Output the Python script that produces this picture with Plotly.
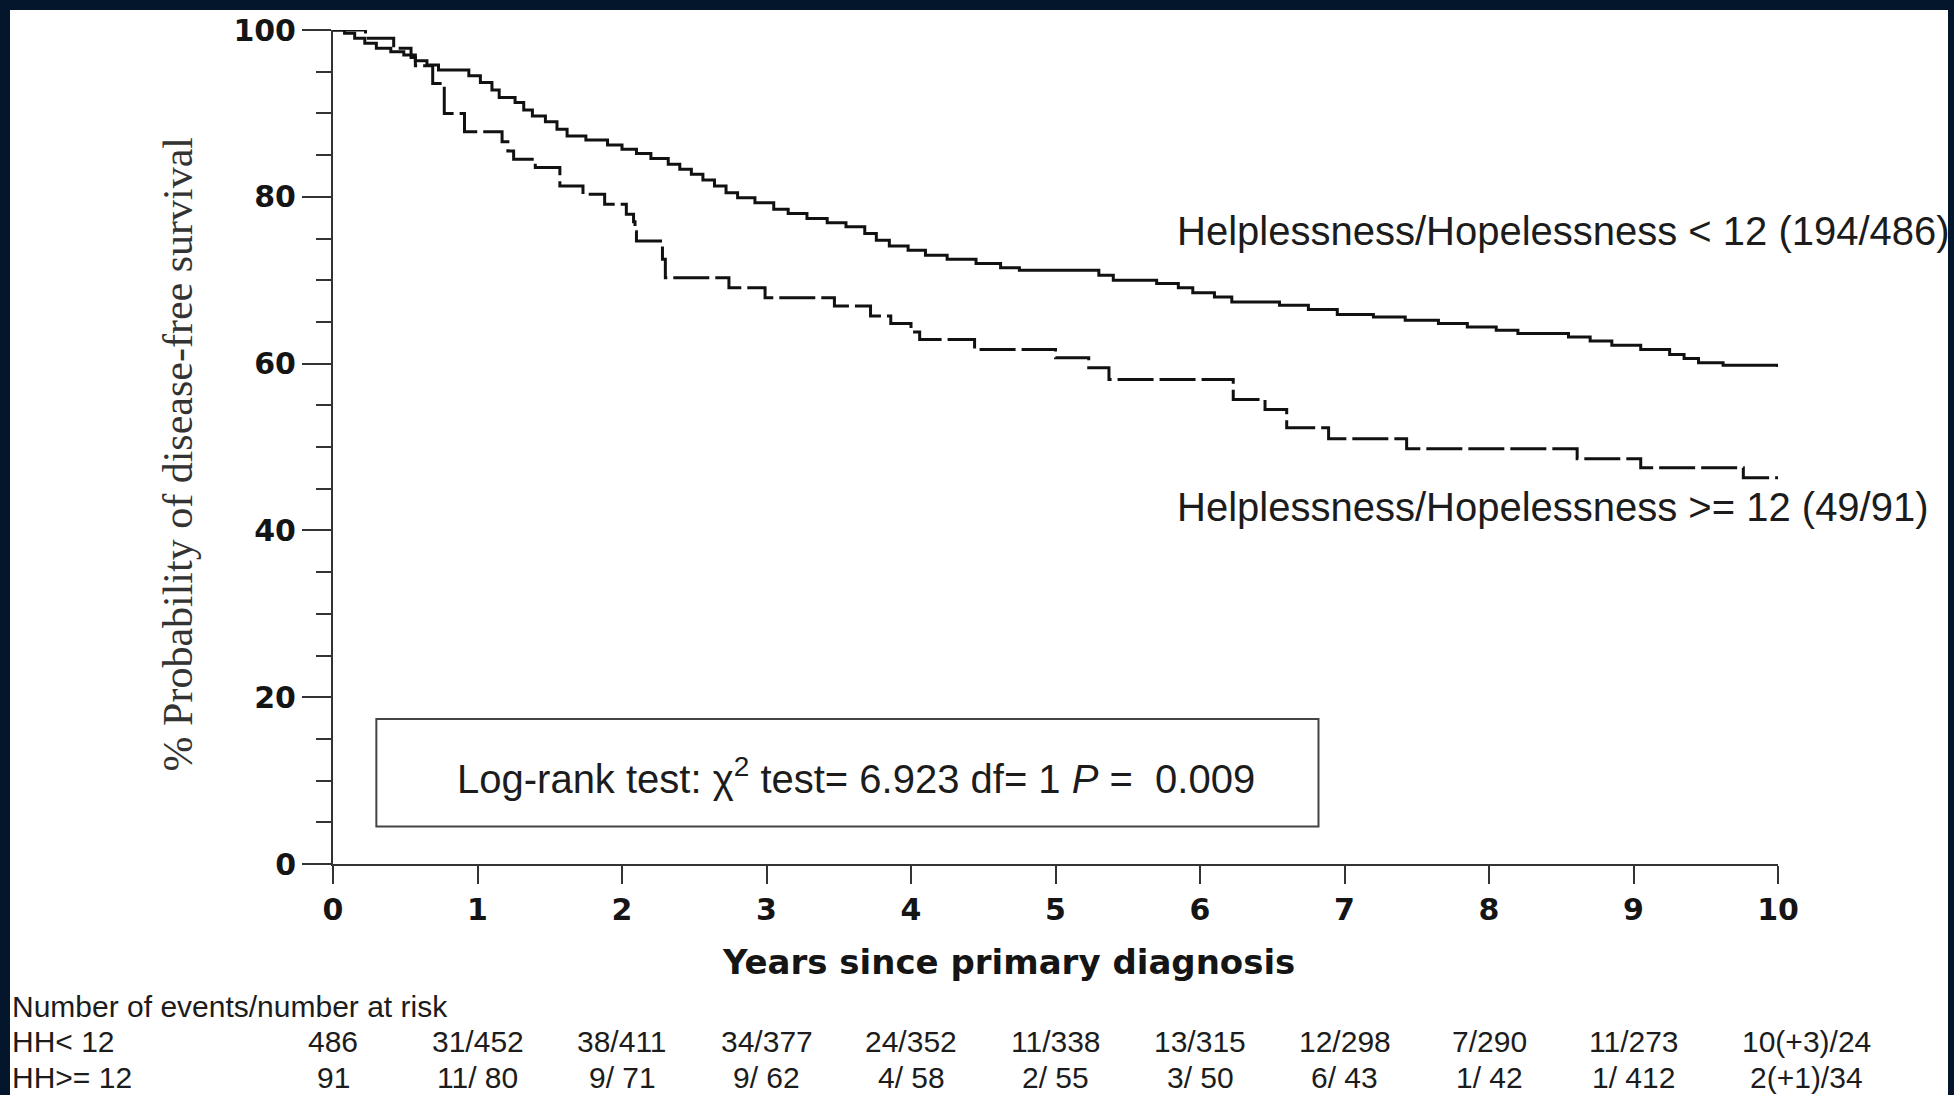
import plotly.graph_objects as go

# ---------------- data ----------------
# Kaplan-Meier step points (years, % disease-free survival)
hh_low_t = [0, 0.08, 0.15, 0.22, 0.30, 0.40, 0.49, 0.57, 0.65, 0.73, 0.94, 1.02, 1.10, 1.15,
            1.26, 1.32, 1.38, 1.47, 1.55, 1.62, 1.75, 1.90, 2.00, 2.10, 2.20, 2.32, 2.40,
            2.48, 2.56, 2.64, 2.72, 2.80, 2.92, 3.05, 3.15, 3.28, 3.42, 3.55, 3.68, 3.76,
            3.85, 3.98, 4.10, 4.25, 4.45, 4.62, 4.75, 5.30, 5.40, 5.70, 5.85, 5.95, 6.10,
            6.22, 6.55, 6.75, 6.95, 7.20, 7.42, 7.65, 7.85, 8.05, 8.20, 8.55, 8.70, 8.85,
            9.05, 9.25, 9.35, 9.45, 9.62, 10.0]
hh_low_s = [100, 99.6, 99.0, 98.4, 97.8, 97.4, 97.0, 96.3, 95.8, 95.2, 94.5, 93.7, 92.8, 91.9,
            91.3, 90.4, 89.7, 89.0, 88.1, 87.3, 86.8, 86.2, 85.7, 85.2, 84.6, 83.9, 83.3,
            82.7, 82.0, 81.3, 80.5, 79.9, 79.3, 78.5, 78.0, 77.4, 76.9, 76.4, 75.6, 74.8,
            74.1, 73.6, 73.0, 72.5, 72.0, 71.5, 71.2, 70.6, 70.0, 69.6, 69.1, 68.5, 68.0,
            67.4, 67.0, 66.5, 65.9, 65.6, 65.2, 64.8, 64.4, 64.0, 63.6, 63.2, 62.7, 62.2,
            61.7, 61.1, 60.6, 60.1, 59.8, 59.6]

hh_high_t = [0, 0.225, 0.42, 0.54, 0.57, 0.69, 0.77, 0.91, 1.17, 1.21, 1.25, 1.40, 1.57, 1.73,
             1.88, 2.03, 2.08, 2.09, 2.10, 2.28, 2.30, 2.74, 2.99, 3.47, 3.72, 3.86, 4.00,
             4.06, 4.44, 5.00, 5.23, 5.37, 6.23, 6.45, 6.60, 6.89, 7.43, 8.61, 9.05, 9.76, 10.0]
hh_high_s = [100, 99.0, 97.8, 96.7, 95.7, 93.6, 90.0, 87.8, 86.6, 85.5, 84.5, 83.5, 81.3, 80.3,
             79.1, 77.9, 77.0, 75.8, 74.7, 72.5, 70.3, 69.1, 67.9, 66.9, 65.7, 64.8, 63.8,
             62.9, 61.7, 60.7, 59.5, 58.1, 55.7, 54.5, 52.3, 51.0, 49.8, 48.6, 47.5, 46.3, 46.3]

label_low = "Helplessness/Hopelessness < 12 (194/486)"
label_high = "Helplessness/Hopelessness >= 12 (49/91)"

risk_years = [0, 1, 2, 3, 4, 5, 6, 7, 8, 9, 10]
risk_low = ["486", "31/452", "38/411", "34/377", "24/352", "11/338", "13/315", "12/298",
            "7/290", "11/273", "10(+3)/24"]
risk_high = ["91", "11/ 80", "9/ 71", "9/ 62", "4/ 58", "2/ 55", "3/ 50", "6/ 43",
             "1/ 42", "1/ 412", "2(+1)/34"]
risk_row_names = ["HH< 12", "HH>= 12"]

y_ticks = [0, 20, 40, 60, 80, 100]
x_ticks = [0, 1, 2, 3, 4, 5, 6, 7, 8, 9, 10]

# ---------------- layout geometry (pixels) ----------------
W, H = 1954, 1095
L, R, T, B = 333, 176, 25, 231
PW, PH = W - L - R, H - T - B


def px(xp):
    return (xp - L) / PW


def py(yp):
    return (H - B - yp) / PH


NAVY = "#03162b"
INK = "#1c1c1c"
AX = "#333333"

fig = go.Figure()

fig.add_trace(go.Scatter(x=hh_low_t, y=hh_low_s, mode="lines", line_shape="hv",
                         line=dict(color="#111111", width=3), showlegend=False,
                         name=label_low))
fig.add_trace(go.Scatter(x=hh_high_t, y=hh_high_s, mode="lines", line_shape="hv",
                         line=dict(color="#111111", width=3, dash="36px,6px"),
                         showlegend=False, name=label_high))

shapes = [
    # white sheet over navy background
    dict(type="rect", xref="paper", yref="paper", x0=px(10), x1=px(1948), y0=py(1100),
         y1=py(5), fillcolor="white", line=dict(width=0), layer="below"),
    # log-rank box
    dict(type="rect", xref="x", yref="y", x0=0.30, x1=6.82, y0=4.5, y1=17.4,
         line=dict(color="#444444", width=2), fillcolor="rgba(0,0,0,0)"),
    # axis extensions past the origin (axes cross)
    dict(type="line", xref="paper", yref="paper", x0=0, x1=0, y0=py(864), y1=py(882),
         line=dict(color=AX, width=2)),
]

ann = []
ann.append(dict(x=5.83, y=75.9, xref="x", yref="y", text=label_low, showarrow=False,
                xanchor="left", yanchor="middle",
                font=dict(family="Liberation Sans, Arial", size=40, color=INK)))
ann.append(dict(x=5.83, y=42.8, xref="x", yref="y", text=label_high, showarrow=False,
                xanchor="left", yanchor="middle",
                font=dict(family="Liberation Sans, Arial", size=40, color=INK)))
ann.append(dict(x=3.62, y=10.6, xref="x", yref="y",
                text="Log-rank test: \u03c7<sup>2</sup> test= 6.923 df= 1 <i>P</i> =\u00a0 0.009",
                showarrow=False, xanchor="center", yanchor="middle",
                font=dict(family="Liberation Sans, Arial", size=40, color=INK)))
# axis titles
ann.append(dict(x=px(178), y=py(452), xref="paper", yref="paper",
                text="% Probability of disease-free survival", textangle=-90,
                showarrow=False, xanchor="center", yanchor="middle",
                font=dict(family="Liberation Serif, Times New Roman", size=42, color="#333333")))
ann.append(dict(x=px(1008), y=py(963), xref="paper", yref="paper",
                text="Years since primary diagnosis", showarrow=False,
                xanchor="center", yanchor="middle",
                font=dict(family="DejaVu Sans", size=34, color="#151515", weight="bold")))
# risk table
tfont = dict(family="Liberation Sans, Arial", size=30, color=INK)
ann.append(dict(x=px(10), y=py(1007), xref="paper", yref="paper",
                text="Number of events/number at risk", showarrow=False,
                xanchor="left", yanchor="middle", font=tfont))
for name, ypix in zip(risk_row_names, [1043, 1079]):
    ann.append(dict(x=px(10), y=py(ypix), xref="paper", yref="paper", text=name,
                    showarrow=False, xanchor="left", yanchor="middle", font=tfont))
for row, ypix in zip([risk_low, risk_high], [1043, 1079]):
    for i, (yr, txt) in enumerate(zip(risk_years, row)):
        ann.append(dict(x=yr, y=py(ypix), xref="x", yref="paper", text=txt,
                        showarrow=False, xanchor="center", yanchor="middle",
                        xshift=(28 if i == len(row) - 1 else 0), font=tfont))

fig.update_layout(
    width=W, height=H,
    margin=dict(l=L, r=R, t=T, b=B, pad=0),
    paper_bgcolor=NAVY,
    plot_bgcolor="rgba(0,0,0,0)",
    shapes=shapes,
    annotations=ann,
    showlegend=False,
)
fig.update_xaxes(range=[0, 10], tickvals=x_ticks, showline=True, linecolor=AX,
                 linewidth=2, ticks="outside", ticklen=18, tickwidth=2, tickcolor=AX,
                 showgrid=False, zeroline=False,
                 tickfont=dict(family="DejaVu Sans", size=30, color="#151515", weight="bold"))
fig.update_yaxes(range=[0, 100], tickvals=y_ticks, showline=True, linecolor=AX,
                 linewidth=2, ticks="outside", ticklen=29, tickwidth=2, tickcolor=AX,
                 showgrid=False, zeroline=False,
                 minor=dict(dtick=5, ticks="outside", ticklen=15, tickwidth=2,
                            tickcolor=AX, showgrid=False),
                 tickfont=dict(family="DejaVu Sans", size=30, color="#151515", weight="bold"))

fig.write_html("out.html", config={"displayModeBar": False},
               post_script="document.body.style.margin='0';document.body.style.overflow='hidden';")
